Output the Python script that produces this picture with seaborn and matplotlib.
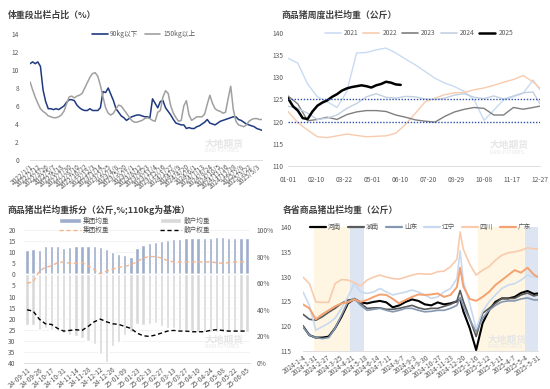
import matplotlib
matplotlib.use("Agg")
import matplotlib.pyplot as plt
from matplotlib.lines import Line2D
from matplotlib.patches import Patch
import numpy as np
import pandas as pd
import seaborn as sns

sns.set_theme(style="white")
plt.rcParams['font.family'] = ['Noto Sans CJK SC', 'DejaVu Sans']
plt.rcParams['axes.unicode_minus'] = False

# ---------------- Panel 1 data: weight-band share (%) ----------------
p1_dates = pd.date_range("2022-01-01", periods=90, freq="14D")
p1_under90 = [10.7, 10.9, 10.7, 10.9, 10.4, 7.8, 6.5, 5.7, 5.7, 5.6,
              5.7, 5.6, 5.8, 6.0, 6.4, 6.7, 6.7, 6.6, 6.1, 5.8,
              5.6, 5.5, 5.5, 5.7, 5.5, 5.5, 5.5, 5.8, 7.6, 7.5,
              8.0, 7.3, 6.6, 5.7, 5.3, 4.9, 4.7, 4.4, 4.6, 4.8,
              4.9, 5.0, 5.0, 4.9, 4.8, 4.8, 4.7, 6.8, 6.3, 5.8,
              6.5, 6.6, 5.8, 5.4, 5.0, 4.5, 4.1, 4.0, 3.9, 3.9,
              3.5, 3.6, 3.5, 3.5, 3.7, 3.8, 4.0, 4.2, 4.5, 4.1,
              4.0, 3.9, 4.1, 4.3, 4.4, 4.5, 4.6, 4.7, 4.8, 4.8,
              4.5, 4.4, 4.2, 4.0, 3.9, 3.8, 3.7, 3.5, 3.4, 3.3]
p1_over150 = [8.7, 7.8, 7.0, 6.3, 5.7, 5.4, 5.2, 4.9, 4.8, 4.7,
              4.7, 4.8, 5.0, 5.4, 6.2, 7.0, 7.1, 6.9, 7.1, 7.2,
              7.4, 8.0, 8.6, 9.2, 9.6, 9.7, 9.3, 8.3, 7.0, 5.8,
              5.2, 5.0, 5.2, 5.7, 6.1, 6.0, 5.6, 5.2, 4.8, 4.4,
              4.2, 4.2, 4.3, 4.4, 4.6, 4.7, 4.6, 4.4, 4.3, 5.3,
              5.5, 7.0, 7.7, 7.4, 6.0, 5.2, 4.7, 4.3, 4.4, 6.0,
              6.6, 5.0, 4.4, 4.6, 4.8, 4.8, 4.8, 5.1, 6.2, 7.2,
              6.3, 5.7, 5.5, 5.4, 5.2, 5.3, 6.8, 8.2, 5.6, 4.3,
              3.9, 3.8, 3.7, 3.9, 4.3, 4.5, 4.6, 4.6, 4.5, 4.5]
p1_names = ["90kg以下", "150kg以上"]
p1_colors = ["#1f3a80", "#a0a0a0"]

# ---------------- Panel 2 data: weekly avg weight by year ----------------
p2_days = [0, 14, 28, 42, 56, 70, 84, 98, 112, 126, 140, 154, 168, 182,
           196, 210, 224, 238, 252, 266, 280, 294, 308, 322, 336, 350, 360]
p2_2021 = [134.3, 133.2, 128.5, 125.6, 124.5, 123.2, 126.8, 135.5, 135.6, 136.2,
           136.6, 135.5, 134.1, 132.8, 131.3, 129.8, 128.7, 127.9, 126.8, 124.9,
           120.3, 122.6, 124.9, 125.6, 126.4, 129.4, 127.2]
p2_2022 = [122.3, 119.8, 118.1, 116.6, 116.4, 116.8, 117.2, 116.9, 116.6, 116.7,
           116.8, 117.4, 119.4, 121.9, 124.5, 125.3, 126.1, 126.5, 126.6, 127.2,
           127.6, 128.2, 128.9, 129.5, 130.4, 129.0, 127.5]
p2_2023 = [125.8, 124.0, 120.2, 120.5, 121.0, 120.5, 121.6, 122.2, 122.5, 122.5,
           122.3, 121.5, 121.0, 120.4, 120.1, 119.9, 121.2, 122.2, 122.8, 123.2,
           123.0, 121.5, 121.5, 123.2, 122.8, 123.2, 123.5]
p2_2024 = [123.5, 123.0, 121.9, 120.5, 120.8, 121.5, 123.0, 124.1, 125.6, 126.3,
           125.5, 125.3, 125.7, 125.6, 125.1, 125.0, 125.3, 126.0, 126.3, 125.5,
           125.2, 125.8, 125.1, 125.8, 126.5, 126.7, 124.0]
p2_days_2025 = [0, 7, 14, 21, 28, 35, 42, 49, 56, 63, 70, 77, 84, 91, 98,
                105, 112, 119, 126, 133, 140, 147, 154, 161]
p2_2025 = [125.3, 123.5, 122.5, 120.8, 120.6, 122.3, 123.6, 124.3, 124.8, 125.6,
           126.2, 127.0, 127.5, 127.8, 128.0, 128.2, 128.0, 127.7, 128.2, 128.5,
           129.0, 128.8, 128.4, 128.3]
p2_ticks = [0, 40, 80, 120, 160, 200, 240, 280, 320, 360]
p2_ticklabels = ["01-01", "02-10", "03-22", "05-01", "06-10", "07-20",
                 "08-29", "10-08", "11-17", "12-27"]
p2_years = ["2021", "2022", "2023", "2024", "2025"]
p2_colors = ["#c9dbf2", "#f8cbad", "#7f7f7f", "#c3cfe2", "#000000"]
p2_refs = [125, 120]

# ---------------- Panel 3 data: split of avg weight ----------------
p3_dates = ["24-09-11", "24-09-19", "24-09-26", "24-10-10", "24-10-17", "24-10-24",
            "24-10-31", "24-11-07", "24-11-14", "24-11-21", "24-11-28", "24-12-05",
            "24-12-12", "24-12-19", "24-12-26", "25-01-02", "25-01-09", "25-01-16",
            "25-01-23", "25-02-06", "25-02-13", "25-02-20", "25-02-27", "25-03-06",
            "25-03-13", "25-03-20", "25-03-27", "25-04-03", "25-04-10", "25-04-17",
            "25-04-24", "25-05-01", "25-05-08", "25-05-15", "25-05-22", "25-05-29",
            "25-06-05"]
p3_group = [11.2, 11.4, 11.2, 12.8, 13.0, 13.0, 12.0, 12.2, 12.8, 13.0,
            13.0, 12.8, 12.4, 11.6, 10.0, 9.0, 8.5, 7.8, 11.9, 13.2,
            14.0, 14.8, 15.0, 15.5, 15.8, 16.1, 16.3, 16.3, 16.3, 16.3,
            16.5, 16.7, 16.7, 16.5, 16.5, 16.5, 16.5]
p3_retail = [23, 23, 25, 24, 25, 25.5, 26.5, 27.3, 28, 28.8,
             30.2, 31.5, 35.8, 39.5, 32.5, 30.5, 27.5, 26, 22.5, 23,
             22.5, 22, 23.5, 24, 24, 25, 25, 25.5, 26, 26,
             26, 26, 26, 26, 26, 26, 26]
p3_group_w = [60, 61, 69, 72, 73, 75.5, 76, 75, 75, 75.5,
              73, 70, 67, 69, 70.5, 72, 72.5, 74, 76, 79,
              80, 80, 79, 77, 76, 76, 76, 76, 76, 76,
              76, 75.5, 75, 75.5, 76, 76, 76]
p3_retail_w = [40, 39, 33, 29.5, 29, 26, 24, 24.5, 25, 24.5,
               27.5, 31, 33, 31, 29.5, 29, 27.5, 26, 22.5, 20.5,
               20, 21, 22.5, 24, 24.5, 24, 24, 23.5, 23.5, 23.5,
               24.5, 25, 24.5, 24, 24, 24, 24]

# ---------------- Panel 4 data: provinces ----------------
p4_dates = ["2024-01-04", "2024-01-18", "2024-02-01", "2024-02-15", "2024-02-29",
            "2024-03-14", "2024-03-28", "2024-04-11", "2024-04-25", "2024-05-09",
            "2024-05-23", "2024-06-06", "2024-06-20", "2024-07-04", "2024-07-18",
            "2024-08-01", "2024-08-15", "2024-08-29", "2024-09-12", "2024-09-26",
            "2024-10-10", "2024-10-24", "2024-11-07", "2024-11-21", "2024-12-05",
            "2024-12-12", "2024-12-19", "2025-01-02", "2025-01-16", "2025-01-30",
            "2025-02-13", "2025-02-27", "2025-03-13", "2025-03-27", "2025-04-10",
            "2025-04-24", "2025-05-08", "2025-05-22", "2025-05-31"]
p4_henan = [120.0, 118.2, 117.7, 117.7, 117.9, 119.6, 121.9, 124.6, 125.5, 124.8,
            124.6, 124.9, 125.1, 124.8, 123.8, 124.2, 124.9, 125.4, 125.1, 124.4,
            124.2, 124.8, 124.4, 124.6, 125.0, 125.5, 123.0, 119.6, 115.2, 120.6,
            123.2, 124.9, 125.6, 125.6, 125.9, 126.7, 127.1, 126.5, 126.6]
p4_hunan = [122.4, 121.4, 121.2, 121.9, 122.8, 123.6, 124.6, 125.3, 125.4, 124.6,
            123.6, 123.7, 123.7, 123.4, 123.4, 123.6, 123.9, 124.2, 123.7, 123.4,
            123.6, 123.6, 124.0, 124.4, 125.1, 127.2, 125.0, 121.5, 117.9, 122.6,
            123.6, 124.6, 125.6, 125.6, 125.6, 126.3, 126.7, 126.1, 126.3]
p4_shandong = [119.9, 118.2, 117.7, 117.5, 117.7, 119.6, 122.2, 124.9, 125.6, 124.2,
               123.2, 123.4, 123.6, 123.2, 122.9, 123.2, 123.6, 123.6, 123.2, 122.9,
               123.0, 123.2, 123.2, 123.6, 124.2, 125.8, 124.0, 121.3, 118.9, 121.6,
               123.2, 124.2, 124.9, 125.1, 125.1, 125.5, 125.7, 125.3, 125.3]
p4_liaoning = [126.9, 124.2, 119.2, 119.9, 120.6, 121.6, 123.6, 125.9, 128.6, 126.9,
               126.6, 126.9, 127.6, 126.9, 126.3, 126.6, 126.9, 127.3, 126.9, 126.3,
               125.6, 125.9, 126.9, 127.6, 129.6, 135.2, 129.0, 124.5, 119.5, 123.0,
               124.9, 126.3, 127.6, 128.3, 128.6, 129.3, 130.3, 129.9, 129.9]
p4_sichuan = [129.9, 128.6, 124.9, 124.8, 124.8, 128.6, 129.4, 129.3, 128.8, 128.1,
              129.3, 129.9, 130.3, 129.9, 129.6, 129.5, 129.9, 130.3, 130.6, 130.5,
              130.5, 131.0, 131.1, 132.0, 133.5, 139.0, 135.5, 132.5, 130.3, 131.3,
              132.0, 133.3, 134.3, 134.8, 135.0, 135.3, 135.8, 135.6, 135.6]
p4_guangdong = [124.4, 123.6, 121.4, 122.4, 123.2, 124.0, 124.6, 124.8, 125.4, 124.9,
                125.3, 125.9, 126.4, 126.3, 125.5, 124.6, 125.3, 125.9, 126.4, 126.3,
                126.4, 126.6, 125.9, 126.3, 127.9, 131.8, 128.0, 125.5, 125.1, 125.9,
                126.9, 128.3, 129.3, 130.3, 131.3, 130.8, 131.8, 130.4, 129.9]
p4_names = ["河南", "湖南", "山东", "辽宁", "四川", "广东"]
p4_colors = ["#000000", "#5a5a5a", "#8497b0", "#c9daf0", "#f8cbad", "#f4a272"]
p4_yellow = [("2024-01-29", "2024-04-16"), ("2025-01-21", "2025-05-03")]
p4_blue = [("2024-04-16", "2024-05-17"), ("2025-05-03", "2025-05-31")]

# ---------------- figure ----------------
W, H = 550, 389
fig = plt.figure(figsize=(5.5, 3.89), dpi=100)


def rect(l, t, r, b):
    return [l / W, 1 - b / H, (r - l) / W, (b - t) / H]


TICK = "#595959"
TITLE = "#404040"
FS = 4.8
TFS = 6.4


def style(ax, bottom=True):
    for s in ["top", "right", "left"]:
        ax.spines[s].set_visible(False)
    ax.spines["bottom"].set_visible(bottom)
    ax.spines["bottom"].set_color("#d9d9d9")
    ax.spines["bottom"].set_linewidth(0.6)
    ax.tick_params(length=0, labelsize=FS, colors=TICK, pad=2)
    ax.set_xlabel("")
    ax.set_ylabel("")


def watermark(x, y):
    fig.text(x / W, 1 - y / H, "大地期货", fontsize=7, color="#e6e6e6",
             fontweight="bold", ha="left", va="center", zorder=0)
    fig.text(x / W, 1 - (y + 7) / H, "DADI FUTURES", fontsize=3.5, color="#e6e6e6",
             ha="left", va="center", zorder=0)


# ---- Panel 1 ----
ax1 = fig.add_axes(rect(30, 34, 262, 160))
df1 = pd.DataFrame({
    "idx": list(range(len(p1_dates))) * 2,
    "value": p1_under90 + p1_over150,
    "series": [p1_names[0]] * len(p1_under90) + [p1_names[1]] * len(p1_over150),
})
sns.lineplot(data=df1, x="idx", y="value", hue="series", hue_order=p1_names,
             palette=p1_colors, ax=ax1, linewidth=1.1, legend=False)
ax1.set_xlim(0, len(p1_dates) - 1)
ax1.set_ylim(0, 14)
ax1.set_yticks(range(0, 15, 2))
ticks1 = list(range(0, len(p1_dates), 3))
ax1.set_xticks(ticks1)
ax1.set_xticklabels([f"{p1_dates[i].year}/{p1_dates[i].month}/{p1_dates[i].day}" for i in ticks1],
                    rotation=40, ha="right", rotation_mode="anchor", fontsize=4.3)
style(ax1)
ax1.tick_params(axis="y", pad=8)
ax1.legend(handles=[Line2D([], [], color=c, lw=1.2) for c in p1_colors], labels=p1_names,
           loc="center", bbox_to_anchor=(0.49, 1.0), ncol=2, frameon=False,
           fontsize=FS, handlelength=2.3, handletextpad=0.4, columnspacing=1.0,
           labelcolor=TICK)
fig.text(8 / W, 1 - 15 / H, "体重段出栏占比（%）", fontsize=TFS, fontweight="bold",
         color=TITLE, va="center")
watermark(205, 144)

# ---- Panel 2 ----
ax2 = fig.add_axes(rect(288, 33, 540, 166))
rows = []
for yr, vals in zip(p2_years[:4], [p2_2021, p2_2022, p2_2023, p2_2024]):
    rows += [(d, v, yr) for d, v in zip(p2_days, vals)]
rows += [(d, v, "2025") for d, v in zip(p2_days_2025, p2_2025)]
df2 = pd.DataFrame(rows, columns=["day", "value", "year"])
sns.lineplot(data=df2, x="day", y="value", hue="year", hue_order=p2_years,
             palette=p2_colors, size="year", sizes={"2021": 1.0, "2022": 1.0, "2023": 1.0,
                                                     "2024": 1.0, "2025": 1.8},
             ax=ax2, legend=False)
for r in p2_refs:
    ax2.axhline(r, color="#2f4fa8", lw=1.0, ls=(0, (1, 1.2)))
ax2.set_xlim(0, 360)
ax2.set_ylim(110, 140)
ax2.set_yticks(range(110, 141, 5))
ax2.set_xticks(p2_ticks)
ax2.set_xticklabels(p2_ticklabels, fontsize=FS)
style(ax2)
ax2.tick_params(axis="x", pad=7)
ax2.tick_params(axis="y", pad=3)
ax2.legend(handles=[Line2D([], [], color=c, lw=1.8 if y == "2025" else 1.2)
                    for c, y in zip(p2_colors, p2_years)],
           labels=p2_years, loc="center", bbox_to_anchor=(0.52, 1.0), ncol=5,
           frameon=False, fontsize=FS, handlelength=2.4, handletextpad=0.5,
           columnspacing=0.7, labelcolor=TICK)
fig.text(282 / W, 1 - 15 / H, "商品猪周度出栏均重（公斤）", fontsize=TFS, fontweight="bold",
         color=TITLE, va="center")
watermark(490, 145)

# ---- Panel 3 ----
ax3 = fig.add_axes(rect(24, 230, 250, 363))
df3 = pd.DataFrame({"date": p3_dates, "group": p3_group,
                    "retail": [-v for v in p3_retail]})
ax3.yaxis.grid(True, color="#eeeeee", lw=0.5)
ax3.set_axisbelow(True)
sns.barplot(data=df3, x="date", y="group", color="#9dadcc", saturation=1,
            width=0.55, ax=ax3)
sns.barplot(data=df3, x="date", y="retail", color="#d9d9d9", saturation=1,
            width=0.55, ax=ax3)
ax3.set_ylim(-40, 20)
ax3.set_yticks(range(-40, 21, 5))
ax3.set_yticklabels([str(abs(v)) for v in range(-40, 21, 5)])
ax3.set_xticks(range(0, len(p3_dates), 2))
ax3.set_xticklabels(p3_dates[::2], rotation=40, ha="right", rotation_mode="anchor",
                    fontsize=4.4)
style(ax3)
ax3.tick_params(axis="y", pad=6)
ax3b = ax3.twinx()
xi = np.arange(len(p3_dates))
sns.lineplot(x=xi, y=p3_group_w, ax=ax3b, color="#f6b48a", lw=1.0,
             linestyle=(0, (3, 2)))
sns.lineplot(x=xi, y=p3_retail_w, ax=ax3b, color="#000000", lw=1.0,
             linestyle=(0, (3, 2)))
ax3b.set_ylim(0, 100)
ax3b.set_yticks(range(0, 101, 20))
ax3b.set_yticklabels([f"{v}%" for v in range(0, 101, 20)])
style(ax3b, bottom=False)
ax3b.spines["bottom"].set_visible(False)
ax3b.tick_params(axis="y", pad=5)
ax3.set_xlim(-0.5, len(p3_dates) - 0.5)
h3 = [Patch(facecolor="#9dadcc"), Line2D([], [], color="#f6b48a", lw=1.0, ls=(0, (3, 2))),
      Patch(facecolor="#d9d9d9"), Line2D([], [], color="#000000", lw=1.0, ls=(0, (3, 2)))]
l3 = ["集团均重", "集团权重", "散户均重", "散户权重"]
ax3b.legend(handles=h3, labels=l3, loc="center", bbox_to_anchor=(0.49, 1.034), ncol=2,
            frameon=False, fontsize=FS, handlelength=3.2, handleheight=0.8,
            handletextpad=0.4, columnspacing=7.5, labelspacing=0.15, labelcolor=TICK)
fig.text(8 / W, 1 - 210 / H, "商品猪出栏均重拆分（公斤,%;110kg为基准）", fontsize=TFS,
         fontweight="bold", color=TITLE, va="center")
watermark(205, 340)

# ---- Panel 4 ----
ax4 = fig.add_axes(rect(303, 227, 538, 351))
d4 = pd.to_datetime(p4_dates)
for a, b in p4_yellow:
    ax4.axvspan(pd.Timestamp(a), pd.Timestamp(b), color="#fef6e2", lw=0, zorder=0)
for a, b in p4_blue:
    ax4.axvspan(pd.Timestamp(a), pd.Timestamp(b), color="#dde5f3", lw=0, zorder=0)
p4_series = [p4_henan, p4_hunan, p4_shandong, p4_liaoning, p4_sichuan, p4_guangdong]
df4 = pd.DataFrame({
    "date": list(d4) * 6,
    "value": sum(p4_series, []),
    "prov": sum([[n] * len(d4) for n in p4_names], []),
})
sns.lineplot(data=df4, x="date", y="value", hue="prov", hue_order=p4_names,
             palette=p4_colors, size="prov",
             sizes={"河南": 1.5, "湖南": 1.2, "山东": 1.2, "辽宁": 1.2, "四川": 1.2, "广东": 1.4},
             ax=ax4, legend=False)
ax4.set_xlim(pd.Timestamp("2024-01-04"), pd.Timestamp("2025-05-31"))
ax4.set_ylim(115, 140)
ax4.set_yticks(range(115, 141, 5))
t4 = pd.date_range("2024-01-04", periods=20, freq="27D")
ax4.set_xticks(t4)
ax4.set_xticklabels([f"{t.year}-{t.month}-{t.day}" for t in t4], rotation=35, ha="right",
                    rotation_mode="anchor", fontsize=4.4)
style(ax4)
ax4.tick_params(axis="y", pad=8)
ax4.legend(handles=[Line2D([], [], color=c, lw=1.6) for c in p4_colors], labels=p4_names,
           loc="center", bbox_to_anchor=(0.5, 1.0), ncol=6, frameon=False, fontsize=FS,
           handlelength=2.4, columnspacing=1.0, handletextpad=0.3, labelcolor=TICK)
fig.text(283 / W, 1 - 210 / H, "各省商品猪出栏均重（公斤）", fontsize=TFS, fontweight="bold",
         color=TITLE, va="center")
watermark(488, 340)

fig.savefig("out.png", dpi=100, facecolor="white")
